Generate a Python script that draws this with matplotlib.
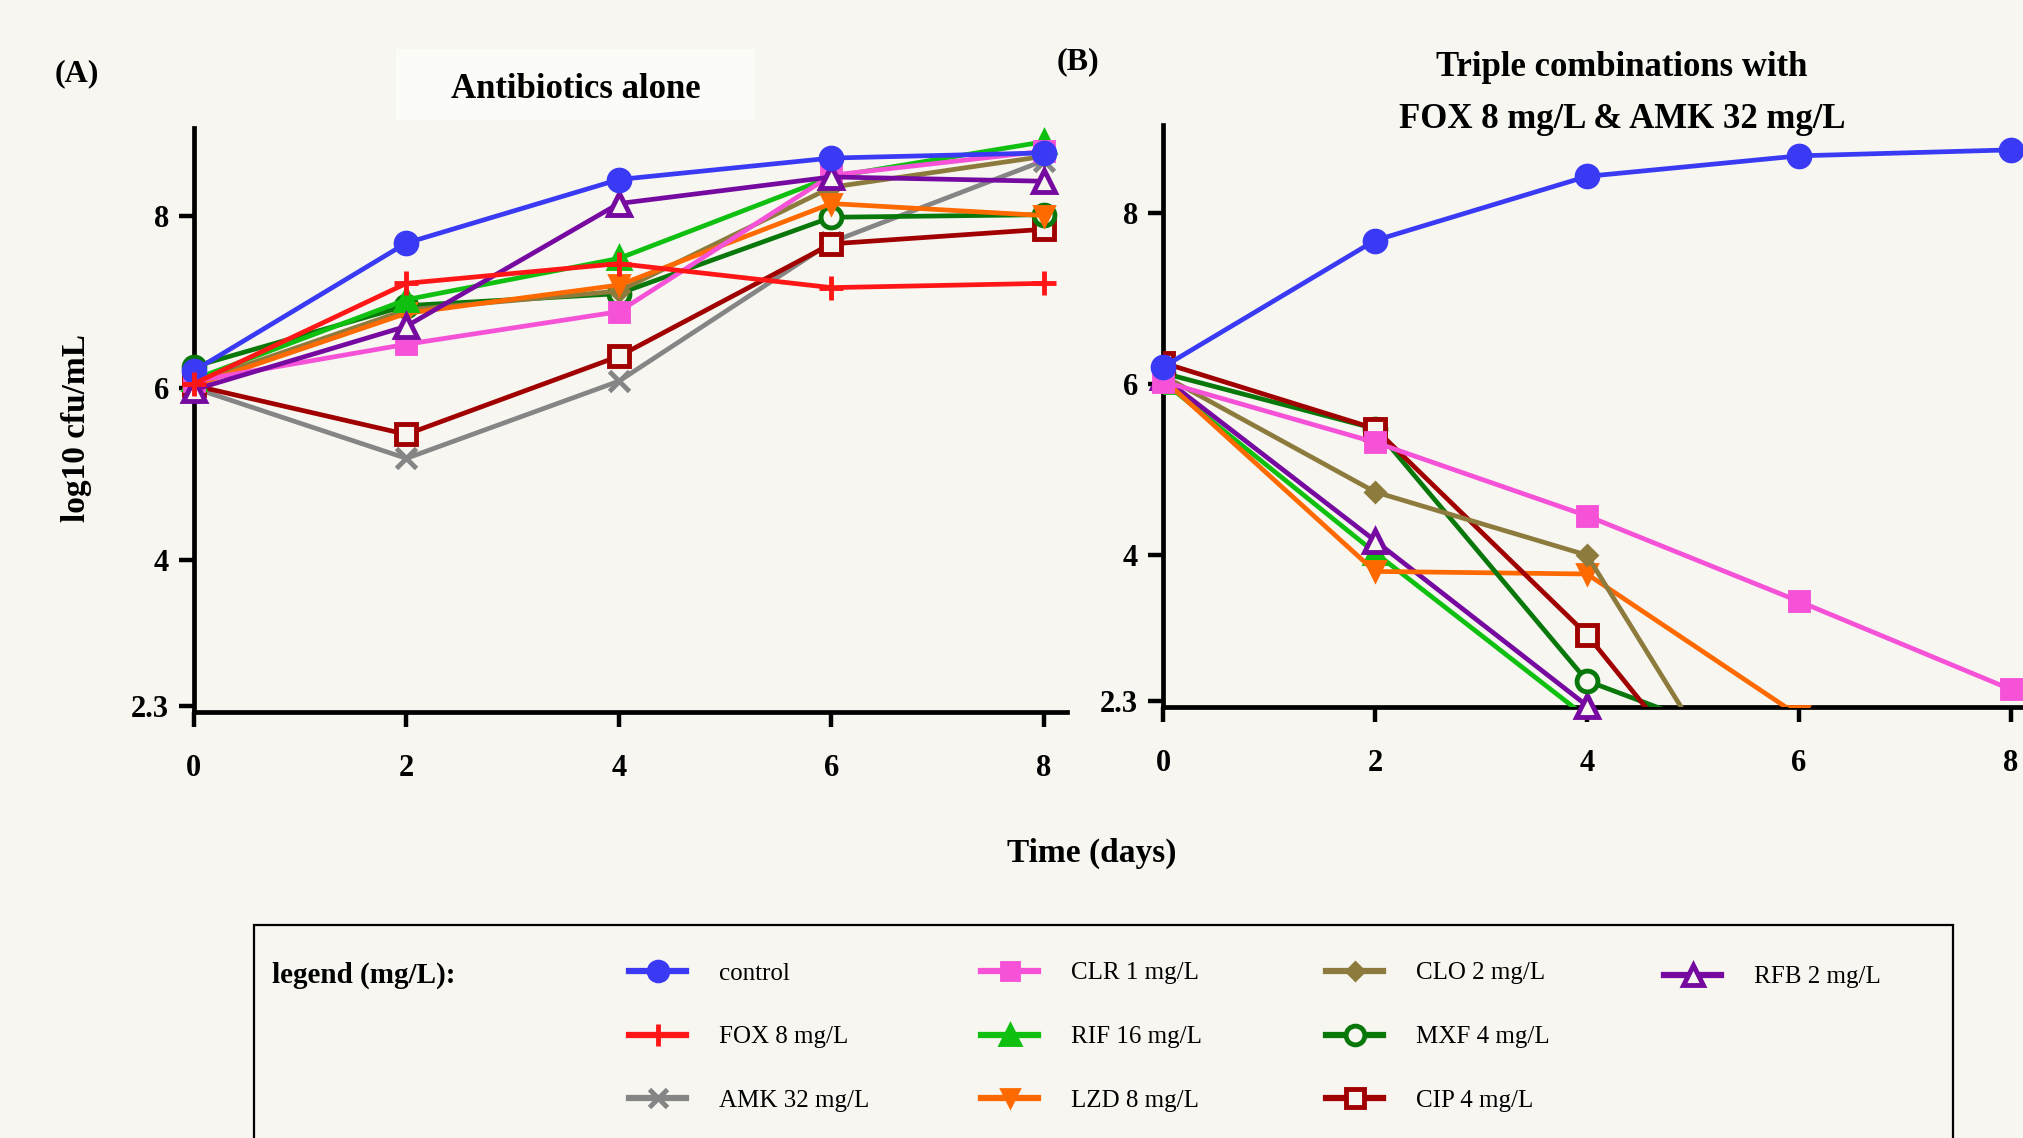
import numpy as np
import matplotlib
matplotlib.use("Agg")
import matplotlib.pyplot as plt
from matplotlib.lines import Line2D
from matplotlib.patches import Rectangle

plt.rcParams['font.family'] = ['Liberation Serif', 'DejaVu Serif']

# ---- data ----
days = [0, 2, 4, 6, 8]
nan = np.nan

# panel A: antibiotics alone
a_control = [6.20, 7.69, 8.43, 8.68, 8.74]
a_fox = [6.05, 7.22, 7.45, 7.17, 7.22]
a_amk = [6.00, 5.18, 6.08, 7.70, 8.65]
a_clr = [6.08, 6.51, 6.89, 8.48, 8.76]
a_rif = [6.10, 7.03, 7.51, 8.46, 8.87]
a_lzd = [6.03, 6.87, 7.20, 8.15, 8.01]
a_clo = [6.06, 6.91, 7.13, 8.34, 8.70]
a_mxf = [6.25, 6.96, 7.10, 7.99, 8.02]
a_cip = [6.03, 5.46, 6.37, 7.68, 7.85]
a_rfb = [5.98, 6.72, 8.15, 8.46, 8.41]

# panel B: triple combinations with FOX 8 & AMK 32
b_control = [6.20, 7.68, 8.43, 8.67, 8.74]
b_clr = [6.03, 5.32, 4.46, 3.46, 2.43]
b_clo = [6.10, 4.74, 4.00, 0.0, nan]
b_cip = [6.25, 5.48, 3.07, 0.0, nan]
b_mxf = [6.13, 5.48, 2.53, 1.60, nan]
b_lzd = [6.06, 3.81, 3.78, 2.12, nan]
b_rfb = [6.08, 4.17, 2.24, nan, nan]
b_rif = [6.03, 4.03, 2.10, nan, nan]

y_ticks = [2.3, 4, 6, 8]
y_ticklabels = ['2.3', '4', '6', '8']
x_ticks = [0, 2, 4, 6, 8]

bg = '#f7f6f1'

# name: (color, marker, size, filled)
styles = {
    'control': ('#3a3af5', 'o', 15, True),
    'FOX 8 mg/L': ('#ff1616', '+', 17, True),
    'AMK 32 mg/L': ('#858585', 'x', 14, True),
    'CLR 1 mg/L': ('#f552d8', 's', 13, True),
    'RIF 16 mg/L': ('#10c010', '^', 14, True),
    'LZD 8 mg/L': ('#ff6a00', 'v', 14, True),
    'CLO 2 mg/L': ('#8c7b3c', 'D', 10, True),
    'MXF 4 mg/L': ('#08780a', 'o', 15, False),
    'CIP 4 mg/L': ('#a00000', 's', 15, False),
    'RFB 2 mg/L': ('#760aa0', '^', 16, False),
}

fig = plt.figure(figsize=(20.24, 11.38), dpi=100, facecolor=bg)
axA = fig.add_axes([0.0958, 0.3743, 0.4315, 0.5132])
axB = fig.add_axes([0.5746, 0.3787, 0.4305, 0.5114])

ymin, ymax = 2.224, 9.03


def draw(ax, name, vals, lw=3.4):
    c, m, ms, filled = styles[name]
    vals = np.array(vals, dtype=float)
    clip = np.nanmin(vals) < ymin
    ax.plot(days, vals, color=c, lw=lw, marker=m, ms=ms,
            mew=3.5 if m in '+xos^' else 2,
            mfc=c if filled else bg, mec=c, clip_on=clip, zorder=3)


for name, vals in [('AMK 32 mg/L', a_amk), ('CIP 4 mg/L', a_cip), ('MXF 4 mg/L', a_mxf),
                   ('CLO 2 mg/L', a_clo), ('LZD 8 mg/L', a_lzd), ('RIF 16 mg/L', a_rif),
                   ('CLR 1 mg/L', a_clr), ('RFB 2 mg/L', a_rfb), ('control', a_control),
                   ('FOX 8 mg/L', a_fox)]:
    draw(axA, name, vals)

for name, vals in [('RIF 16 mg/L', b_rif), ('RFB 2 mg/L', b_rfb), ('LZD 8 mg/L', b_lzd),
                   ('MXF 4 mg/L', b_mxf), ('CIP 4 mg/L', b_cip), ('CLO 2 mg/L', b_clo),
                   ('CLR 1 mg/L', b_clr), ('control', b_control)]:
    draw(axB, name, vals)

for ax in (axA, axB):
    ax.set_facecolor(bg)
    ax.set_xlim(0, 8.22)
    ax.set_ylim(ymin, ymax)
    ax.spines['top'].set_visible(False)
    ax.spines['right'].set_visible(False)
    ax.spines['left'].set_linewidth(3.4)
    ax.spines['bottom'].set_linewidth(3.4)
    ax.set_xticks(x_ticks)
    ax.set_yticks(y_ticks)
    ax.set_yticklabels(y_ticklabels)
    ax.tick_params(axis='both', length=11, width=3.2, labelsize=22)
    ax.tick_params(axis='x', pad=19)
    ax.tick_params(axis='y', pad=7)
    for lab in ax.get_xticklabels() + ax.get_yticklabels():
        lab.set_fontweight('bold')

# titles and labels
fig.text(77 / 2024, 1 - 74 / 1138, '(A)', fontsize=23, fontweight='bold', ha='center', va='center')
fig.text(1078 / 2024, 1 - 62 / 1138, '(B)', fontsize=23, fontweight='bold', ha='center', va='center')
fig.patches.append(Rectangle((396 / 2024, 1 - 120 / 1138), 359 / 2024, 71 / 1138,
                             transform=fig.transFigure, facecolor='#fbfbf8', edgecolor='none'))
fig.text(576 / 2024, 1 - 89 / 1138, 'Antibiotics alone', fontsize=25, fontweight='bold',
         ha='center', va='center')
fig.text(1622 / 2024, 1 - 68 / 1138, 'Triple combinations with', fontsize=25, fontweight='bold',
         ha='center', va='center')
fig.text(1622 / 2024, 1 - 120 / 1138, 'FOX 8 mg/L & AMK 32 mg/L', fontsize=25, fontweight='bold',
         ha='center', va='center')
fig.text(77 / 2024, 1 - 428 / 1138, 'log10 cfu/mL', fontsize=24, fontweight='bold',
         rotation=90, ha='center', va='center')
fig.text(1092 / 2024, 1 - 853 / 1138, 'Time (days)', fontsize=24, fontweight='bold',
         ha='center', va='center')

# legend box
fig.patches.append(Rectangle((254 / 2024, -0.05), 1699 / 2024, 0.05 + 1 - 925 / 1138,
                             transform=fig.transFigure, facecolor='none', edgecolor='black', lw=1.6))
fig.text(272 / 2024, 1 - 975 / 1138, 'legend (mg/L):', fontsize=21, fontweight='bold',
         ha='left', va='center')

columns = [['control', 'FOX 8 mg/L', 'AMK 32 mg/L'],
           ['CLR 1 mg/L', 'RIF 16 mg/L', 'LZD 8 mg/L'],
           ['CLO 2 mg/L', 'MXF 4 mg/L', 'CIP 4 mg/L'],
           ['RFB 2 mg/L']]
col_x = [629, 981, 1326, 1664]
col_y = [1037, 1037, 1037, 977]

for names, cx, cy in zip(columns, col_x, col_y):
    handles = []
    for n in names:
        c, m, ms, filled = styles[n]
        handles.append(Line2D([], [], color=c, lw=4.5, marker=m, ms=ms * 0.9,
                              mew=3.5 if m in '+xos^' else 2,
                              mfc=c if filled else bg, mec=c))
    fig.legend(handles, names, loc='center left', bbox_to_anchor=(cx / 2024, 1 - cy / 1138),
               frameon=False, fontsize=18, handlelength=2.3, handletextpad=1.3,
               labelspacing=1.65, borderpad=0, borderaxespad=0)

fig.savefig('out.png', dpi=100, facecolor=bg)
